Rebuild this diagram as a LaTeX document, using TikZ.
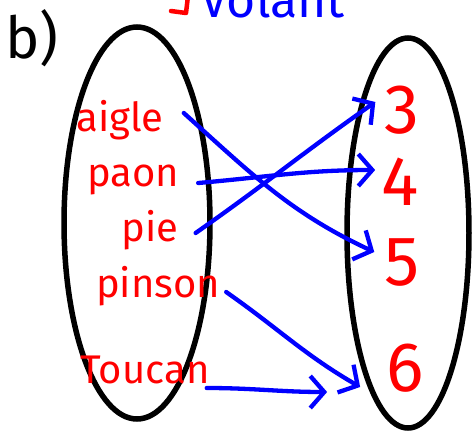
\documentclass[tikz,border=0pt]{standalone}
\usepackage{fontspec}
\setmainfont{Fira Sans}
\usetikzlibrary{arrows.meta,positioning}
\tikzset{el/.style={draw=black,line width=5.5pt},
 w/.style={text=red,font=\fontsize{40}{42}\selectfont,inner sep=1pt},
 nb/.style={text=red,font=\fontsize{70}{72}\selectfont,inner sep=1pt},
 ar/.style={draw=blue,line width=4.3pt,line cap=round,-{Straight Barb[length=14pt,width=32pt,line width=4.3pt]}}}

\begin{document}
\begin{tikzpicture}[x=1pt,y=-1pt]
\useasboundingbox (0,0) rectangle (475,432);
\begin{scope}\clip (0,0) rectangle (475,432);
\node[text=blue,font=\fontsize{50}{52}\selectfont,anchor=base west,inner sep=0pt](top) at (200,17){Volant};
\draw[red,line width=4.5pt,line cap=round,line join=round] (188,-4) -- (186,13) -- (171,11);
\end{scope}
\node[font=\fontsize{58}{60}\selectfont,inner sep=0pt](lbl) at (32,38){b)};
\draw[el] (137,223) ellipse [x radius=73,y radius=196];
\draw[el] (408,233) ellipse [x radius=61,y radius=195];
\node[w](aigle) at (120,120){aigle};\node[w](paon) at (133,180){paon};
\node[w](pie) at (150,230){pie};\node[w](pinson) at (158,286){pinson};
\node[w](toucan) at (145,370){Toucan};
\node[nb](n3) at (402,110){3};\node[nb](n4) at (400,182){4};
\node[nb](n5) at (402,262){5};\node[nb](n6) at (405,368){6};
\draw[ar]([xshift=19pt,yshift=7pt]aigle.east) to[out=-42,in=155] ([xshift=-9pt,yshift=10pt]n5.west);
\draw[ar]([xshift=18pt,yshift=-3pt]paon.east) to[out=5,in=180] ([xshift=-5pt,yshift=12pt]n4.west);
\draw[ar]([xshift=16pt,yshift=-3pt]pie.east) to[out=35,in=215] ([xshift=-8pt,yshift=8pt]n3.west);
\draw[ar]([xshift=5pt,yshift=-6pt]pinson.east) to[out=-35,in=150] ([xshift=-25pt,yshift=-19pt]n6.west);
\draw[ar]([xshift=-4pt,yshift=-18pt]toucan.east) to[out=0,in=180] ([xshift=-58pt,yshift=-24pt]n6.west);
\end{tikzpicture}
\end{document}
